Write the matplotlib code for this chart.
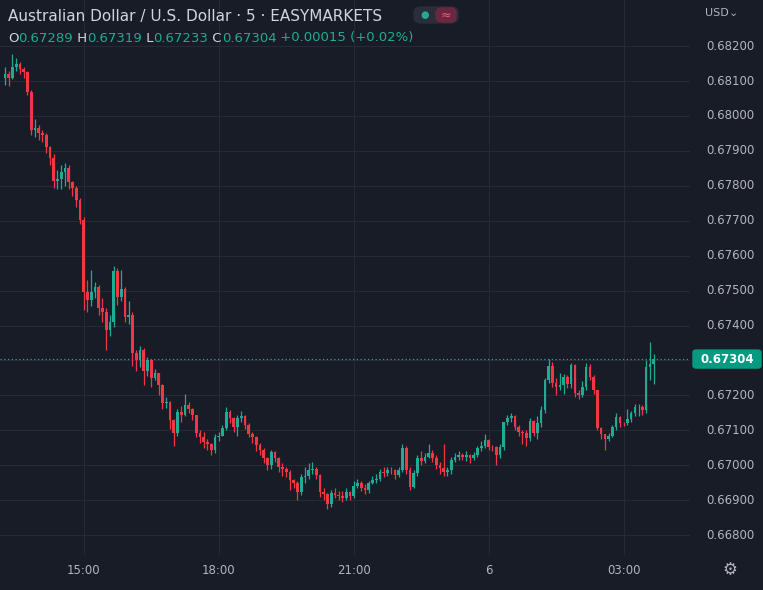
import numpy as np
import matplotlib.pyplot as plt
from matplotlib.patches import FancyBboxPatch

# 5-minute AUD/USD candles, 13:15 -> 03:40
first_open = 0.68110
closes = [
    .68120, .68110, .68140, .68150, .68135, .68125, .68070, .67960, .67965, .67950,
    .67945, .67910, .67880, .67815, .67820, .67840, .67850, .67810, .67795, .67760,
    .67702, .67496, .67473, .67495, .67510, .67450, .67438, .67387, .67410, .67555,
    .67481, .67505, .67424, .67430, .67321, .67300, .67330, .67270, .67300, .67250,
    .67264, .67230, .67178, .67180, .67129, .67092, .67152, .67145, .67172, .67162,
    .67143, .67092, .67080, .67066, .67062, .67043, .67080, .67085, .67106, .67152,
    .67135, .67109, .67135, .67140, .67115, .67090, .67080, .67058, .67043, .67020,
    .67000, .67037, .67020, .66995, .66990, .66980, .66957, .66949, .66923, .66966,
    .66970, .66986, .66990, .66972, .66923, .66918, .66888, .66920, .66915, .66912,
    .66906, .66924, .66912, .66940, .66948, .66935, .66929, .66948, .66957, .66962,
    .66980, .66978, .66986, .66985, .66972, .66986, .67049, .66986, .66937, .66977,
    .67020, .67011, .67025, .67035, .67020, .67001, .66992, .66980, .66985, .67015,
    .67023, .67030, .67025, .67028, .67022, .67030, .67049, .67056, .67072, .67052,
    .67051, .67029, .67051, .67123, .67135, .67140, .67109, .67095, .67092, .67077,
    .67126, .67092, .67121, .67158, .67244, .67284, .67235, .67224, .67230, .67252,
    .67232, .67287, .67206, .67200, .67224, .67281, .67252, .67215, .67106, .67090,
    .67074, .67085, .67109, .67138, .67121, .67120, .67132, .67149, .67166, .67168,
    .67158, .67281, .67289, .67304,
]
highs = [
    .68140, .68130, .68178, .68165, .68155, .68140, .68130, .68075, .67990, .67975,
    .67960, .67950, .67915, .67890, .67845, .67860, .67865, .67860, .67815, .67800,
    .67765, .67710, .67530, .67560, .67525, .67515, .67480, .67450, .67430, .67570,
    .67565, .67560, .67510, .67470, .67440, .67330, .67340, .67335, .67310, .67305,
    .67275, .67265, .67232, .67195, .67185, .67132, .67160, .67170, .67205, .67180,
    .67165, .67145, .67100, .67095, .67075, .67065, .67090, .67095, .67115, .67168,
    .67158, .67138, .67145, .67155, .67145, .67120, .67095, .67085, .67065, .67048,
    .67025, .67045, .67040, .67025, .67005, .66995, .66985, .66960, .66955, .66975,
    .66995, .67005, .67010, .66995, .66975, .66935, .66920, .66930, .66935, .66925,
    .66925, .66935, .66925, .66955, .66960, .66955, .66945, .66955, .66968, .66975,
    .66990, .66995, .66995, .66995, .66990, .66995, .67060, .67055, .66995, .66985,
    .67030, .67040, .67035, .67060, .67045, .67030, .67010, .67062, .66995, .67025,
    .67035, .67040, .67035, .67040, .67032, .67038, .67055, .67068, .67090, .67075,
    .67058, .67056, .67060, .67125, .67145, .67150, .67145, .67115, .67100, .67100,
    .67135, .67130, .67140, .67170, .67250, .67305, .67295, .67250, .67265, .67262,
    .67258, .67292, .67290, .67215, .67240, .67292, .67290, .67258, .67215, .67110,
    .67090, .67092, .67115, .67150, .67140, .67125, .67160, .67155, .67175, .67175,
    .67172, .67300, .67353, .67319,
]
lows = [
    .68090, .68085, .68105, .68130, .68120, .68110, .68060, .67945, .67940, .67930,
    .67925, .67895, .67860, .67795, .67790, .67790, .67800, .67790, .67770, .67740,
    .67690, .67445, .67440, .67455, .67480, .67430, .67410, .67330, .67370, .67395,
    .67460, .67470, .67410, .67405, .67285, .67270, .67280, .67230, .67255, .67225,
    .67245, .67200, .67160, .67165, .67105, .67055, .67085, .67125, .67140, .67150,
    .67130, .67080, .67065, .67050, .67045, .67030, .67035, .67070, .67085, .67100,
    .67120, .67095, .67085, .67125, .67105, .67080, .67065, .67040, .67030, .67005,
    .66985, .66990, .67010, .66980, .66970, .66965, .66930, .66935, .66900, .66915,
    .66950, .66960, .66975, .66960, .66910, .66900, .66875, .66880, .66905, .66900,
    .66895, .66900, .66900, .66905, .66935, .66925, .66918, .66920, .66945, .66950,
    .66955, .66965, .66970, .66975, .66960, .66965, .66980, .66975, .66930, .66935,
    .66970, .67000, .67005, .67020, .67010, .66990, .66975, .66968, .66970, .66975,
    .67010, .67015, .67015, .67012, .67005, .67015, .67025, .67040, .67050, .67045,
    .67040, .67000, .67020, .67045, .67115, .67125, .67100, .67085, .67060, .67055,
    .67070, .67085, .67075, .67110, .67150, .67235, .67225, .67200, .67215, .67205,
    .67222, .67220, .67195, .67190, .67195, .67215, .67245, .67205, .67100, .67075,
    .67043, .67070, .67080, .67100, .67110, .67112, .67115, .67125, .67140, .67140,
    .67145, .67150, .67245, .67233,
]
time_ticks = [21, 57, 93, 129, 165]
time_labels = ["15:00", "18:00", "21:00", "6", "03:00"]
price_ticks = [0.682, 0.681, 0.680, 0.679, 0.678, 0.677, 0.676, 0.675,
               0.674, 0.673, 0.672, 0.671, 0.670, 0.669, 0.668]
last_price = 0.67304

BG = "#181c27"
GRID = "#262a35"
UP = "#22ab94"
DOWN = "#f23645"
TXT = "#b2b5be"

closes = np.array(closes)
opens = np.concatenate([[first_open], closes[:-1]])
highs = np.maximum(np.array(highs), np.maximum(opens, closes))
lows = np.minimum(np.array(lows), np.minimum(opens, closes))
idx = np.arange(len(closes))

fig = plt.figure(figsize=(7.63, 5.90), dpi=100, facecolor=BG)
ax = fig.add_axes([0, 35 / 590, 690 / 763, 555 / 590], facecolor=BG)
ylo, yhi = 0.66743, 0.68332
ax.set_xlim(-1.33, 182.7)
ax.set_ylim(ylo, yhi)

for p in price_ticks:
    ax.axhline(p, color=GRID, lw=0.8, zorder=0)
for t in time_ticks:
    ax.axvline(t, color=GRID, lw=0.8, zorder=0)

colors = np.where(closes >= opens, UP, DOWN)
ax.vlines(idx, lows, highs, colors=colors, lw=0.9, zorder=2)
body_h = np.abs(closes - opens)
body_h = np.maximum(body_h, 0.000015)
ax.bar(idx, body_h, bottom=np.minimum(opens, closes), width=0.72,
       color=colors, linewidth=0, zorder=3)

ax.axhline(last_price, color=UP, lw=0.9, ls=(0, (1, 2)), zorder=1)

ax.set_xticks([])
ax.set_yticks([])
for s in ax.spines.values():
    s.set_visible(False)

def fy(p):
    return (35 + (p - ylo) / (yhi - ylo) * 555) / 590

# price labels (the one under the last-price tag is hidden, as on the chart)
for p in price_ticks:
    if abs(p - last_price) < 0.0003:
        continue
    fig.text(706 / 763, fy(p), f"{p:.5f}", color=TXT, fontsize=8.5,
             va="center", ha="left")
for t, lab in zip(time_ticks, time_labels):
    fig.text((5 + 3.75 * t) / 763, 19 / 590, lab, color=TXT, fontsize=8.5,
             ha="center", va="center")

# last price tag
box = FancyBboxPatch((693 / 763, fy(last_price) - 9 / 590), 68 / 763, 18 / 590,
                     boxstyle="round,pad=0,rounding_size=0.004",
                     transform=fig.transFigure, color="#089981", zorder=5)
fig.patches.append(box)
fig.text(727 / 763, fy(last_price), f"{last_price:.5f}", color="white",
         fontsize=8.5, fontweight="bold", ha="center", va="center", zorder=6)

fig.text(705 / 763, 577 / 590, "USD", color=TXT, fontsize=8, va="center")
fig.text(729 / 763, 577 / 590, "⌄", color=TXT, fontsize=8, va="center")
fig.text(730 / 763, 20 / 590, "⚙", color=TXT, fontsize=12, ha="center", va="center")

fig.text(8 / 763, 574 / 590, "Australian Dollar / U.S. Dollar · 5 · EASYMARKETS",
         color="#d1d4dc", fontsize=11, va="center")
x0 = 8
parts = [("O", "#d1d4dc"), ("0.67289", UP), (" H", "#d1d4dc"), ("0.67319", UP),
         (" L", "#d1d4dc"), ("0.67233", UP), (" C", "#d1d4dc"), ("0.67304", UP),
         (" +0.00015 (+0.02%)", UP)]
fig.canvas.draw()
r = fig.canvas.get_renderer()
for s, c in parts:
    t = fig.text(x0 / 763, 552 / 590, s, color=c, fontsize=9.5, va="center")
    x0 += t.get_window_extent(r).width

# legend toggle pill
fig.patches.append(FancyBboxPatch((414 / 763, 567 / 590), 44 / 763, 16 / 590,
                   boxstyle="round,pad=0,rounding_size=0.01",
                   transform=fig.transFigure, color="#2a2e39"))
fig.patches.append(FancyBboxPatch((436 / 763, 568 / 590), 20 / 763, 14 / 590,
                   boxstyle="round,pad=0,rounding_size=0.008",
                   transform=fig.transFigure, color="#6b2740"))
fig.text(425 / 763, 575 / 590, "●", color=UP, fontsize=7, ha="center", va="center")
fig.text(446 / 763, 575 / 590, "≈", color="#e0607e", fontsize=9, ha="center", va="center")

fig.savefig("out.png", dpi=100, facecolor=BG)
